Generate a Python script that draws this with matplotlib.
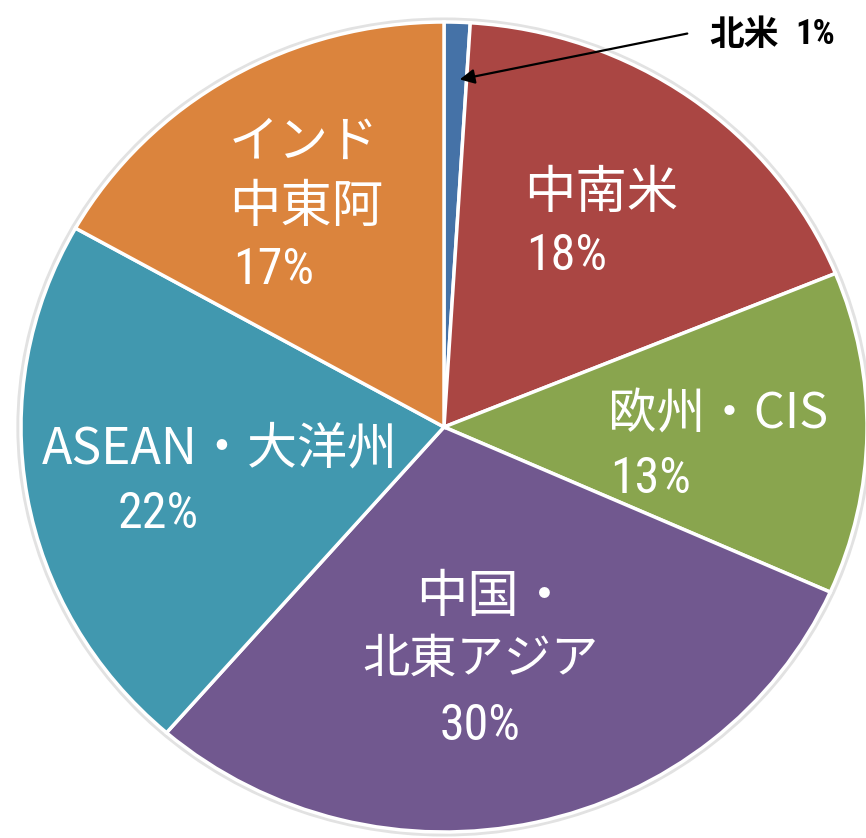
import matplotlib
matplotlib.use("Agg")
import matplotlib.pyplot as plt
from matplotlib import font_manager
from matplotlib.patches import Circle

# Data: region share of the total (%), clockwise from the top
regions = ["北米", "中南米", "欧州・CIS", "中国・北東アジア", "ASEAN・大洋州", "インド中東阿"]
shares = [1, 18, 13, 30, 22, 17]
colors = ["#4572A7", "#AA4643", "#89A54E", "#71588F", "#4198AF", "#DB843D"]

JP = ["Noto Sans CJK JP", "DejaVu Sans"]
available = {f.name for f in font_manager.fontManager.ttflist}
NARROW = next((f for f in ["Liberation Sans Narrow", "Roboto Condensed", "Open Sans Condensed"]
               if f in available), "Liberation Sans")

W, H = 866, 838
fig = plt.figure(figsize=(W / 100, H / 100), dpi=100)
ax = fig.add_axes([0, 0, 1, 1])

# pie centre and radii in pixels (slightly wider than tall)
cx, cy, rx, ry = 444, 427, 423, 405

ax.add_patch(Circle((0, 0), 1.006, facecolor="none", edgecolor="#e2e2e2", lw=3, zorder=0))
ax.pie(shares, colors=colors, startangle=90, counterclock=False, radius=1,
       wedgeprops=dict(edgecolor="white", linewidth=2.5))
ax.set_aspect("auto")
ax.set_xlim(-cx / rx, (W - cx) / rx)
ax.set_ylim(-(H - cy) / ry, cy / ry)
ax.axis("off")


def label(px, py, s, narrow=False, ha="left", size=37, color="white", weight="normal"):
    fam = [NARROW] + JP if narrow else JP
    fig.text(px / W, 1 - py / H, s, ha=ha, va="center", fontsize=size,
             color=color, family=fam, weight=weight)


pct = [f"{v}%" for v in shares]

# インド中東阿
label(229, 143, "インド", size=36)
label(229, 207, "中東阿")
label(233, 270, pct[5], narrow=True, size=36)
# 中南米
label(524, 193, "中南米")
label(526, 256, pct[1], narrow=True, size=36)
# 欧州・CIS
label(608, 415, "欧州・CIS", size=35)
label(610, 479, pct[2], narrow=True, size=36)
# ASEAN・大洋州
label(220, 449, "ASEAN・大洋州", ha="center", size=36)
label(158, 514, pct[4], narrow=True, size=36, ha="center")
# 中国・北東アジア
label(416, 597, "中国・")
label(480, 660, "北東アジア", ha="center", size=34)
label(480, 726, pct[3], narrow=True, size=36, ha="center")

# 北米 callout
label(709, 34, "北米", color="black", size=25, weight="bold")
label(795, 34, pct[0], narrow=True, color="black", size=25, weight="bold")
ax.annotate("", xy=(457 / W, 1 - 80 / H), xycoords="figure fraction",
            xytext=(690 / W, 1 - 33 / H), textcoords="figure fraction",
            arrowprops=dict(arrowstyle="-|>", color="black", lw=1.6, mutation_scale=22))

fig.savefig("out.png", dpi=100)
